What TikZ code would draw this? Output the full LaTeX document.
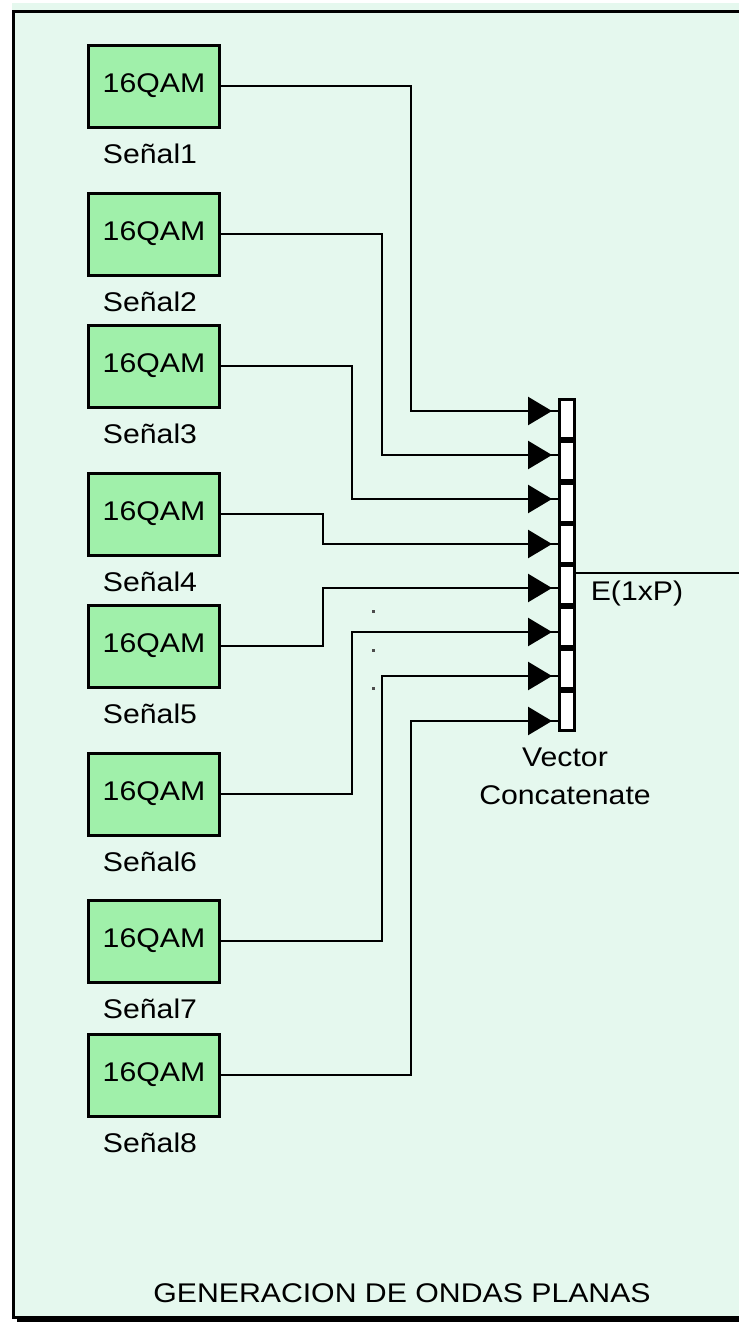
\documentclass[tikz,border=0pt]{standalone}
\usepackage{fontspec}
\newfontfamily\simfont[FakeStretch=1.12]{Liberation Sans}
\usetikzlibrary{arrows.meta,decorations.markings,calc}
\definecolor{mint}{RGB}{229,248,238}
\definecolor{qamgreen}{RGB}{160,240,170}
\tikzset{
  qam/.style={draw=black,line width=3pt,fill=qamgreen,minimum width=131pt,minimum height=82pt,inner sep=0pt,font=\simfont\fontsize{27}{32}\selectfont},
  lbl/.style={inner sep=0pt,font=\simfont\fontsize{27}{32}\selectfont},
  wire/.style={line width=2.5pt,postaction={decorate},decoration={markings,mark=at position 1 with {\arrow{Triangle[length=24pt,width=28pt]}}}},
  cellbox/.style={draw=black,line width=3pt,fill=white,minimum width=15pt,minimum height=39pt,inner sep=0pt},
}
\begin{document}
\begin{tikzpicture}[x=1pt,y=-1pt]
\useasboundingbox (0,0) rectangle (739,1323);
\fill[white] (0,0) rectangle (739,1323);
\fill[mint] (12,3) rectangle (739,1316);
\draw[line width=3pt] (739,11) -- (13,11) -- (13,1317) -- (739,1317);
\draw[line width=3pt] (17,1320) -- (739,1320);

% sources
\foreach \i/\y in {1/86,2/234,3/366,4/514,5/646,6/794,7/941,8/1075}{
  \node[qam] (b\i) at (154,\y) {\raisebox{-2pt}{16QAM}};
  \node[lbl] (l\i) at (150,\y+68) {Señal\i};
}

% concatenate block
\foreach \k/\y in {1/419,2/461,3/503,4/544,5/585,6/627,7/669,8/711}{
  \node[cellbox] (c\k) at (567,\y) {};
}
\node[lbl] (vc1) at (565,757) {Vector};
\node[lbl] (vc2) at (565,795) {Concatenate};

% input points
\foreach \k/\y in {1/411,2/455,3/499,4/544,5/588,6/632,7/676,8/721}{
  \coordinate (in\k) at (558,\y);
}

\draw[wire] (b1.east) -- ++(190,0) |- ($(in1)+(-6,0)$);
\draw[wire] (b2.east) -- ++(161,0) |- ($(in2)+(-6,0)$);
\draw[wire] (b3.east) -- ++(131,0) |- ($(in3)+(-6,0)$);
\draw[wire] (b4.east) -- ++(102,0) |- ($(in4)+(-6,0)$);
\draw[wire] (b5.east) -- ++(102,0) |- ($(in5)+(-6,0)$);
\draw[wire] (b6.east) -- ++(131,0) |- ($(in6)+(-6,0)$);
\draw[wire] (b7.east) -- ++(161,0) |- ($(in7)+(-6,0)$);
\draw[wire] (b8.east) -- ++(190,0) |- ($(in8)+(-6,0)$);
\foreach \k in {1,...,8}{
  \draw[line width=2.5pt] ($(in\k)+(-7,0)$) -- (in\k);
}

% output
\coordinate (out) at (576,573);
\coordinate (outend) at (739,573);
\draw[line width=2.5pt] (out) -- (outend);
\node[lbl] (e) at (637,594) {E(1xP)};

% dots
\foreach \y in {611,650,688}{
  \fill[black!70] (372,\y-1) rectangle (375,\y+2);
}

\node[lbl] (title) at (402,1293) {GENERACION DE ONDAS PLANAS};
\end{tikzpicture}
\end{document}
